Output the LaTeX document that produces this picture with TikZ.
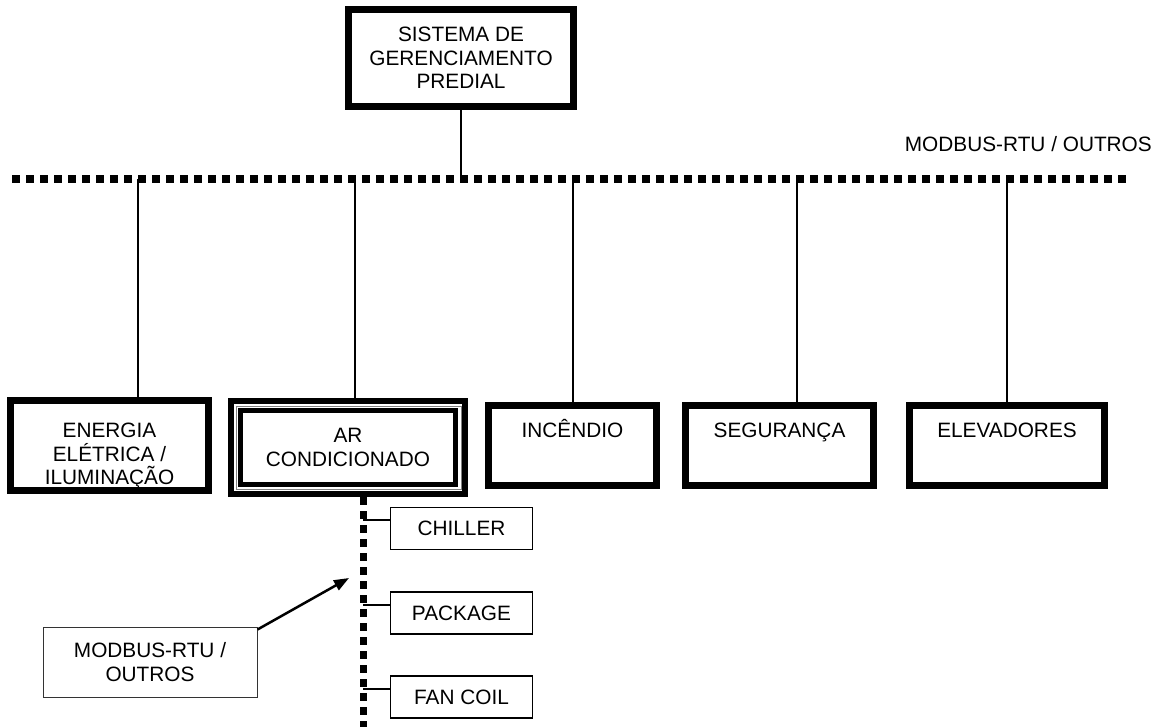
\documentclass[tikz,border=0pt]{standalone}
\usepackage{fontspec}
\setmainfont{Liberation Sans}
\usetikzlibrary{arrows.meta}
\tikzset{
  thickbox/.style={draw=black, line width=7pt, inner sep=0pt, align=center,
    font=\fontsize{20.8}{23.5}\selectfont},
  thinbox/.style={draw=black, line width=1.3pt, inner sep=0pt, align=center,
    minimum width=142pt, minimum height=42pt, font=\fontsize{20.8}{23.5}\selectfont},
  wire/.style={draw=black, line width=1.3pt},
  bus/.style={draw=black, line width=8pt, dash pattern=on 8pt off 6pt},
  plain/.style={inner sep=0pt, font=\fontsize{20.8}{23.5}\selectfont}
}
\begin{document}
\begin{tikzpicture}[x=1pt, y=-1pt]
\useasboundingbox (0,0) rectangle (1158,727);

% top box
\node[thickbox, minimum width=225pt, minimum height=97pt] (sgp) at (461,58)
  {SISTEMA DE\\GERENCIAMENTO\\PREDIAL};

% bus
\coordinate (busL) at (12,179);
\coordinate (busR) at (1130,179);
\draw[bus] (busL) -- (busR);
\node[plain, anchor=east] (buslabel) at (1152,144) {MODBUS-RTU / OUTROS};

\coordinate (busTop) at (461,179);
\draw[wire] (sgp.south) -- (busTop);

% bottom boxes
\node[thickbox, minimum width=198pt, minimum height=90pt] (ene) at (109.5,445.5)
  {\rule{0pt}{36pt}ENERGIA\\ELÉTRICA /\\ILUMINAÇÃO};
\node[thickbox, minimum width=168pt, minimum height=80pt, text height=15pt, text depth=31pt] (inc) at (572.5,445.5) {INCÊNDIO};
\node[thickbox, minimum width=188pt, minimum height=80pt, text height=15pt, text depth=31pt] (seg) at (779.5,445.5) {SEGURANÇA};
\node[thickbox, minimum width=195pt, minimum height=80pt, text height=15pt, text depth=31pt] (ele) at (1007,445) {ELEVADORES};

% AR CONDICIONADO (triple frame)
\node[draw=black, line width=6pt, inner sep=0pt, minimum width=234pt, minimum height=93pt] (ar) at (348,447.5) {};
\node[draw=gray, line width=1pt, inner sep=0pt, minimum width=225pt, minimum height=83pt] (argray) at (348.5,447.5) {};
\node[draw=black, line width=4.5pt, inner sep=0pt, minimum width=215pt, minimum height=74pt, align=center,
  font=\fontsize{20.8}{23.5}\selectfont] (arin) at (348,447.5) {AR\\CONDICIONADO};

% drops from bus
\coordinate (dA) at (138,179);
\coordinate (dB) at (355,179);
\coordinate (dC) at (573,179);
\coordinate (dD) at (797,179);
\coordinate (dE) at (1007,179);
\draw[wire] (dA) -- (dA |- ene.north);
\draw[wire] (dB) -- (dB |- ar.north);
\draw[wire] (dC) -- (dC |- inc.north);
\draw[wire] (dD) -- (dD |- seg.north);
\draw[wire] (dE) -- (dE |- ele.north);

% sub bus
\coordinate (subX) at (363,179);
\coordinate (subB) at (363,727);
\draw[bus, line width=7pt] (subX |- ar.south) -- (subB);

% sub boxes
\node[thinbox] (chi) at (461.5,528.5) {CHILLER};
\node[thinbox] (pac) at (461.5,613) {PACKAGE};
\node[thinbox] (fan) at (461.5,697) {FAN COIL};
\coordinate (c1) at (363,520);
\coordinate (c2) at (363,605);
\coordinate (c3) at (363,689);
\draw[wire] (c1) -- (c1 -| chi.west);
\draw[wire] (c2) -- (c2 -| pac.west);
\draw[wire] (c3) -- (c3 -| fan.west);

% modbus label box and arrow
\node[draw=black!80, line width=1pt, inner sep=0pt, minimum width=214pt, minimum height=70pt, align=center,
  font=\fontsize{20.8}{23.5}\selectfont] (mod) at (150,662) {MODBUS-RTU /\\OUTROS};
\coordinate (arrTip) at (349,578);
\draw[line width=2.5pt, -{Triangle[length=15pt,width=11pt]}] ([yshift=-3pt]mod.north east) -- (arrTip);
\end{tikzpicture}
\end{document}
